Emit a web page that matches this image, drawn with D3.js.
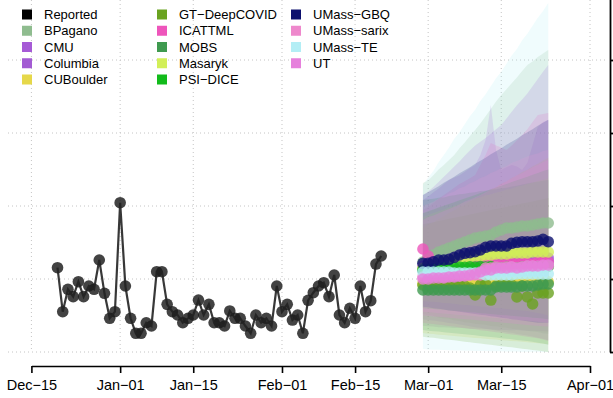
<!DOCTYPE html>
<html><head><meta charset="utf-8">
<script src="https://cdn.jsdelivr.net/npm/d3@7"></script>
<style>body{margin:0;background:#fff} svg{display:block} text{font-family:"Liberation Sans",Arial,Helvetica,sans-serif}</style>
</head><body><svg id="c" width="613" height="398"></svg>
<script>
// ---------- data ----------
const reportedStart = "2020-12-20";
const reported = [1155,552,859,758,963,758,904,859,1260,804,462,552,2045,904,462,256,256,401,356,1100,1100,653,552,507,401,462,507,712,507,653,401,401,356,562,462,462,356,256,507,401,462,356,904,552,653,438,507,256,708,812,904,949,758,1055,507,401,599,462,904,552,703,1205,1315];

const forecastStart = "2021-02-28";
const models = ["BPagano","CMU","Columbia","CUBoulder","GT-DeepCOVID","ICATTML","MOBS","Masaryk","PSI-DICE","UMass-GBQ","UMass-sarix","UMass-TE","UT"];
const modelColors = ["#8fbc8f","#a65ad6","#a35bd3","#e6d84a","#6aa320","#ee55bb","#3f9a4f","#d2ef58","#12bb1b","#0c106e","#ee88cc","#b3eef5","#e680dc"];

const bpaganoMed = [1233,1288,1329,1370,1397,1425,1452,1480,1507,1534,1562,1576,1589,1603,1644,1671,1699,1699,1712,1726,1726,1740,1754,1767,1767];
const bpaganoLo  = [520,505,498,470,462,455,430,425,408,402,388,380,372,355,352,338,333,318,312,301,292,280,274,258,250];
const bpaganoHi  = [2315,2350,2420,2500,2560,2630,2700,2790,2870,2960,3040,3130,3230,3330,3430,3520,3600,3680,3760,3850,3930,3980,4040,4090,4137];

const cmuMed = [1178,1178,1192,1192,1206,1206,1206,1219,1219,1219,1233,1233,1233,1247,1247,1247,1260,1260,1260,1274,1274,1274,1288,1288,1288];
const cmuLo  = [450,440,432,420,410,398,390,376,365,352,340,331,318,305,296,282,270,262,248,236,225,212,196,180,160];
const cmuHi  = [2151,2200,2260,2330,2400,2470,2540,2610,2690,2760,2830,2880,2930,2990,3050,3110,3200,3290,3380,3460,3540,3640,3740,3840,3932];

const columbiaMed = [1125,1140,1132,1150,1146,1160,1155,1170,1163,1178,1172,1190,1185,1196,1203,1198,1212,1220,1215,1228,1235,1230,1242,1250,1246];
const columbiaLo  = [360,352,348,340,338,335,330,332,325,320,318,315,310,312,305,302,300,298,302,295,290,292,288,285,280];
const columbiaHi  = [2082,2130,2190,2240,2300,2356,2390,2420,2470,2520,2562,2700,2904,3384,2767,2493,2530,2562,2540,2493,2589,2836,3082,3151,3178];

const cuboulderMed = [940,948,945,952,945,950,947,944,950,948,952,946,955,960,957,962,958,955,961,959,963,960,957,962,960];
const cuboulderLo  = [260,250,245,238,232,225,220,212,205,200,192,188,180,175,170,162,158,150,146,140,132,126,120,112,105];
const cuboulderHi  = [1700,1745,1775,1822,1858,1905,1938,1984,2015,2062,2098,2143,2176,2224,2258,2305,2336,2384,2418,2465,2497,2544,2578,2625,2660];

const gtMed = [918,918,932,932,918,918,932,918,904,877,781,918,932,712,904,918,918,918,754,904,754,658,808,808,808];
const gtLo  = [210,200,195,185,176,168,160,150,142,132,124,115,106,98,90,80,72,64,55,46,38,28,20,10,0];
const gtHi  = [1750,1762,1778,1795,1808,1824,1838,1853,1868,1884,1898,1914,1928,1944,1958,1973,1988,2004,2018,2034,2048,2063,2078,2094,2110];

const icattmlMed = [1411,1315,1233,1192,1178,1178,1178,1192,1192,1192,1178,1192,1206,1206,1206,1192,1206,1219,1206,1219,1219,1206,1233,1233,1233];
const icattmlLo  = [400,392,385,372,365,355,348,336,328,318,310,298,290,280,270,262,250,240,232,220,210,200,188,170,150];
const icattmlHi  = [1945,1990,2040,2100,2150,2200,2250,2300,2340,2380,2425,2560,2700,2863,2830,2800,2767,2830,2900,2973,3050,3150,3247,3260,3274];

const mobsMed = [849,849,849,849,849,849,849,849,849,849,849,849,849,849,891,891,891,891,891,904,904,904,918,932,932];
const mobsLo  = [300,292,285,280,272,265,258,250,244,236,228,220,212,205,198,190,182,175,166,158,150,140,128,115,100];
const mobsHi  = [2082,2093,2098,2112,2118,2136,2148,2162,2168,2183,2190,2204,2208,2223,2231,2242,2249,2266,2278,2296,2308,2322,2331,2347,2356];

const masarykMed = [1151,1178,1192,1219,1233,1247,1260,1274,1288,1302,1315,1315,1329,1329,1343,1343,1343,1356,1356,1356,1356,1370,1370,1370,1370];
const masarykLo  = [700,692,688,680,672,668,660,652,645,640,632,625,618,610,602,598,590,582,575,568,560,548,535,520,500];
const masarykHi  = [1850,1878,1903,1928,1952,1978,2004,2027,2053,2078,2102,2118,2143,2158,2183,2198,2222,2238,2262,2278,2302,2318,2342,2358,2380];

const psiMed = [1123,1130,1137,1140,1151,1148,1155,1165,1160,1168,1165,1172,1165,1170,1158,1151,1160,1155,1151,1165,1170,1162,1168,1165,1172];
const psiLo  = [600,595,590,582,578,570,565,558,552,545,540,532,528,520,515,508,502,495,490,482,478,470,465,458,450];
const psiHi  = [1900,1928,1953,1978,2003,2028,2052,2078,2102,2128,2152,2178,2203,2228,2252,2278,2302,2328,2352,2378,2402,2428,2452,2478,2500];

const gbqMed = [1215,1215,1237,1260,1260,1270,1297,1329,1352,1360,1374,1397,1434,1452,1452,1452,1452,1489,1503,1511,1511,1511,1521,1544,1511];
const gbqLo  = [620,612,600,592,582,570,562,550,542,530,522,510,502,490,482,470,462,450,442,430,422,410,402,400,400];
const gbqHi  = [2150,2190,2230,2270,2320,2360,2400,2450,2490,2530,2580,2620,2660,2710,2750,2790,2840,2880,2920,2970,3010,3050,3100,3140,3180];

const sarixMed = [1028,1028,1041,1041,1028,1041,1041,1041,1055,1055,1055,1055,1151,1151,1165,1151,1165,1165,1151,1165,1178,1178,1165,1178,1178];
const sarixLo  = [550,545,540,532,528,520,515,508,502,495,490,482,478,470,465,458,452,445,440,432,428,420,415,408,400];
const sarixHi  = [2000,2032,2058,2102,2128,2172,2198,2242,2268,2312,2338,2382,2408,2452,2478,2522,2548,2592,2618,2652,2678,2702,2718,2752,2767];

const teMed = [1096,1096,1096,1096,1096,1096,1082,1082,1082,1082,1082,1082,1055,1055,1055,1055,1055,1055,1069,1069,1069,1069,1069,1069,1069];
const teLo  = [40,35,32,30,28,25,22,20,18,16,15,14,12,11,10,9,8,7,6,5,4,3,2,1,0];
const teHi  = [2290,2390,2480,2600,2700,2800,2920,3010,3120,3230,3320,3440,3530,3640,3750,3840,3950,4060,4150,4270,4360,4470,4580,4670,4780];

const utMed = [1000,1000,1014,1014,1014,1028,1028,1041,1041,1055,1069,1096,1123,1123,1151,1151,1151,1165,1151,1165,1178,1178,1178,1192,1192];
const utLo  = [500,495,488,482,476,470,462,456,450,444,438,430,424,418,410,404,398,390,384,378,370,364,358,352,350];
const utHi  = [1808,1850,1870,1900,1930,1960,1990,2020,2060,2090,2120,2150,2190,2230,2260,2300,2340,2380,2420,2450,2490,2530,2560,2600,2630];

const medians = [bpaganoMed,cmuMed,columbiaMed,cuboulderMed,gtMed,icattmlMed,mobsMed,masarykMed,psiMed,gbqMed,sarixMed,teMed,utMed];
const lowers  = [bpaganoLo,cmuLo,columbiaLo,cuboulderLo,gtLo,icattmlLo,mobsLo,masarykLo,psiLo,gbqLo,sarixLo,teLo,utLo];
const uppers  = [bpaganoHi,cmuHi,columbiaHi,cuboulderHi,gtHi,icattmlHi,mobsHi,masarykHi,psiHi,gbqHi,sarixHi,teHi,utHi];

const xTickLabels = ["2020-12-15","2021-01-01","2021-01-15","2021-02-01","2021-02-15","2021-03-01","2021-03-15","2021-04-01"];
const yTicks = [0,1000,2000,3000,4000,5000];

// ---------- drawing ----------
const parse = d3.utcParse("%Y-%m-%d");
const svg = d3.select("#c");
svg.append("rect").attr("width",613).attr("height",398).attr("fill","#fff");

const x = d3.scaleUtc().domain([parse("2020-12-15"), parse("2021-04-01")]).range([31.4, 590]);
const y = d3.scaleLinear().domain([0,5000]).range([352,-13]);

const xTicks = xTickLabels.map(parse);
const gridCol = "#c4c4c4";
const grid = svg.append("g");
grid.selectAll("line.v").data(xTicks).join("line")
  .attr("x1",d=>x(d)).attr("x2",d=>x(d)).attr("y1",0).attr("y2",y(0))
  .attr("stroke",gridCol).attr("stroke-width",1).attr("stroke-dasharray","1,3");
grid.selectAll("line.h").data(yTicks).join("line")
  .attr("x1",8).attr("x2",608).attr("y1",d=>y(d)).attr("y2",d=>y(d))
  .attr("stroke",gridCol).attr("stroke-width",1).attr("stroke-dasharray","1,3");

const fStart = parse(forecastStart);
const fDates = medians[0].map((_,i)=>d3.utcDay.offset(fStart,i));

// bands
const area = d3.area().x(d=>x(d.date)).y0(d=>y(d.lo)).y1(d=>y(d.hi)).curve(d3.curveLinear);
models.forEach((m,k)=>{
  const rows = fDates.map((d,i)=>({date:d, lo:lowers[k][i], hi:uppers[k][i]}));
  svg.append("path").datum(rows).attr("d",area)
    .attr("fill",modelColors[k]).attr("fill-opacity",0.2).attr("stroke","none");
});
// medians
models.forEach((m,k)=>{
  svg.append("g").selectAll("circle").data(medians[k]).join("circle")
    .attr("cx",(d,i)=>x(fDates[i])).attr("cy",d=>y(d)).attr("r",5.8)
    .attr("fill",modelColors[k]).attr("fill-opacity",0.8);
});

// reported
const rStart = parse(reportedStart);
const rData = reported.map((v,i)=>({date:d3.utcDay.offset(rStart,i), v}));
svg.append("g").selectAll("circle").data(rData).join("circle")
  .attr("cx",d=>x(d.date)).attr("cy",d=>y(d.v)).attr("r",5.8)
  .attr("fill","#1a1a1a").attr("fill-opacity",0.82);
svg.append("path").datum(rData)
  .attr("d",d3.line().x(d=>x(d.date)).y(d=>y(d.v)))
  .attr("fill","none").attr("stroke","#222").attr("stroke-width",2.2).attr("stroke-opacity",0.9);

// axes
const fmt = d3.utcFormat("%b");
const fmtD = d3.utcFormat("%d");
const xAxis = svg.append("g").attr("transform","translate(0,366)")
  .call(d3.axisBottom(x).tickValues(xTicks).tickSize(7).tickSizeOuter(0).tickPadding(7)
    .tickFormat(d=>fmt(d)+"\u2212"+fmtD(d)));
xAxis.select(".domain").attr("stroke","#000").attr("stroke-width",1.6);
xAxis.selectAll(".tick line").attr("stroke","#000").attr("stroke-width",1.6);
xAxis.selectAll("text").attr("font-size",14.5).attr("fill","#000").style("font-family","'Liberation Sans',Arial,sans-serif");

const yAxis = svg.append("g").attr("transform","translate(610,0)")
  .call(d3.axisRight(y).tickValues(yTicks).tickSize(7).tickSizeOuter(0).tickFormat(""));
yAxis.select(".domain").attr("stroke","#000").attr("stroke-width",1.8);
yAxis.selectAll(".tick line").attr("stroke","#000").attr("stroke-width",1.8);

// legend
const legendNames = ["Reported"].concat(models);
const legendColors = ["#000000"].concat(modelColors);
const colX = [22,157,291];
const rowY0 = 14.5, rowDy = 16.25;
const lg = svg.append("g");
legendNames.forEach((n,i)=>{
  const c = Math.floor(i/5), r = i%5;
  const g = lg.append("g").attr("transform",`translate(${colX[c]},${rowY0 + r*rowDy})`);
  g.append("rect").attr("x",0).attr("y",-5).attr("width",10).attr("height",10).attr("fill",legendColors[i]);
  g.append("text").attr("x",22).attr("y",0).attr("dy","0.35em").attr("font-size",13).attr("fill","#000")
    .text(n.replace("-","\u2212"));
});
</script></body></html>
